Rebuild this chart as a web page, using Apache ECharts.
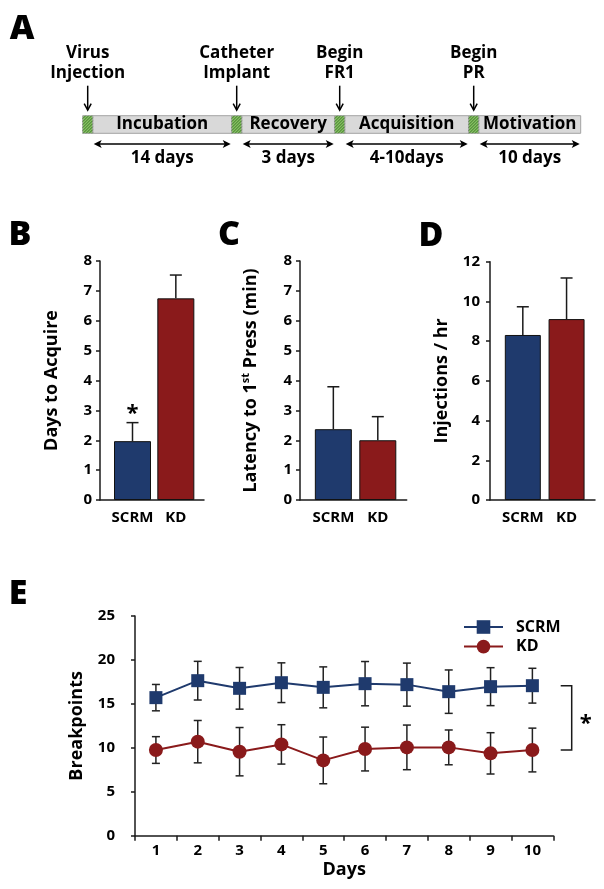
<!DOCTYPE html>
<html>
<head>
<meta charset="utf-8">
<script src="https://cdn.jsdelivr.net/npm/echarts@6/dist/echarts.min.js"></script>
<style>
html,body{margin:0;padding:0;background:#fff;}
#c{width:604px;height:889px;}
</style>
</head>
<body>
<div id="c"></div>
<script>
// ---------------- DATA ----------------
// Panel A: timeline (schematic segment widths)
const phaseNames = ['Incubation', 'Recovery', 'Acquisition', 'Motivation'];
const phaseLengths = [139, 93, 124, 102];
const eventNames = ['Virus\nInjection', 'Catheter\nImplant', 'Begin\nFR1', 'Begin\nPR'];
const durationLabels = ['14 days', '3 days', '4-10days', '10 days'];

// Panels B-D: bar charts
const barCategories = ['SCRM', 'KD'];
const daysToAcquire = [1.97, 6.75];
const daysToAcquireErr = [0.62, 0.78];
const daysToAcquireSig = ['*', ''];
const latency = [2.37, 2.0];
const latencyErr = [1.42, 0.79];
const injections = [8.31, 9.11];
const injectionsErr = [1.42, 2.07];

// Panel E: breakpoints across days
const dayLabels = ['1', '2', '3', '4', '5', '6', '7', '8', '9', '10'];
const scrmBreak = [15.71, 17.64, 16.77, 17.41, 16.88, 17.30, 17.19, 16.39, 16.96, 17.07];
const scrmBreakErr = [1.50, 2.20, 2.37, 2.26, 2.33, 2.52, 2.45, 2.47, 2.16, 1.98];
const kdBreak = [9.75, 10.70, 9.56, 10.39, 8.57, 9.86, 10.05, 10.05, 9.37, 9.75];
const kdBreakErr = [1.52, 2.41, 2.75, 2.24, 2.66, 2.49, 2.54, 1.98, 2.35, 2.49];
const panelLetters = ['A', 'B', 'C', 'D', 'E'];

// ---------------- STYLE ----------------
const FONT = '"Open Sans", "DejaVu Sans", sans-serif';
const BLUE = '#1f3a6d', RED = '#8a1a1b', INK = '#1a1a1a';
const MARK = 10; // width of green start marker (schematic units)
const letterPos = [[22, 29], [20, 235], [229, 235], [431, 236], [18, 594]];

const chart = echarts.init(document.getElementById('c'), null, {renderer: 'canvas'});

function txt(extra) {
  return Object.assign({fontFamily: FONT, fontWeight: 'bold', color: '#000'}, extra);
}

function yAx(gi, max, interval, name, nameGap, labelMargin, rich) {
  return {
    type: 'value', gridIndex: gi, min: 0, max: max, interval: interval,
    name: name, nameLocation: 'middle', nameGap: nameGap,
    nameTextStyle: txt({fontSize: 18, rich: rich}),
    axisLine: {show: true, onZero: false, lineStyle: {color: INK, width: 1.5}},
    axisTick: {show: true, length: 4, lineStyle: {color: INK, width: 1.5}},
    axisLabel: txt({fontSize: 15, margin: labelMargin}),
    splitLine: {show: false}
  };
}
function barX(gi) {
  return {
    type: 'value', gridIndex: gi, min: -0.75, max: 1.65,
    axisLine: {show: true, onZero: false, lineStyle: {color: INK, width: 1.5}},
    axisTick: {show: false}, splitLine: {show: false},
    axisLabel: txt({fontSize: 15, margin: 10, customValues: [0, 1],
      formatter: function (v) { return barCategories[Math.round(v)]; }})
  };
}
function barSeries(ai, vals, w) {
  const cols = [BLUE, RED];
  return {
    type: 'bar', xAxisIndex: ai, yAxisIndex: ai, barWidth: w, z: 2,
    itemStyle: {borderColor: '#111', borderWidth: 1},
    data: vals.map(function (v, i) { return {value: [i, v], itemStyle: {color: cols[i]}}; })
  };
}
function barErr(ai, vals, errs, marks) {
  return {
    type: 'custom', xAxisIndex: ai, yAxisIndex: ai, z: 3,
    data: vals.map(function (v, i) { return [i, v, errs[i]]; }),
    renderItem: function (params, api) {
      const i = api.value(0), v = api.value(1), e = api.value(2);
      const p0 = api.coord([i, v]), p1 = api.coord([i, v + e]);
      const st = {stroke: INK, lineWidth: 1.5};
      const ch = [
        {type: 'line', shape: {x1: p0[0], y1: p0[1], x2: p1[0], y2: p1[1]}, style: st},
        {type: 'line', shape: {x1: p1[0] - 6, y1: p1[1], x2: p1[0] + 6, y2: p1[1]}, style: st}
      ];
      const m = marks ? marks[params.dataIndex] : '';
      if (m) ch.push({type: 'text', x: p1[0], y: p1[1] - 9,
        style: {text: m, fontFamily: FONT, fontWeight: 'bold', fontSize: 22, fill: '#000', align: 'center', verticalAlign: 'middle'}});
      return {type: 'group', children: ch};
    }
  };
}
function lineErr(vals, errs) {
  return {
    type: 'custom', xAxisIndex: 4, yAxisIndex: 4, z: 1,
    data: vals.map(function (v, i) { return [i, v, errs[i]]; }),
    renderItem: function (params, api) {
      const i = api.value(0), v = api.value(1), e = api.value(2);
      const lo = api.coord([i, v - e]), hi = api.coord([i, v + e]);
      const st = {stroke: '#222', lineWidth: 1.5};
      return {type: 'group', children: [
        {type: 'line', shape: {x1: lo[0], y1: lo[1], x2: hi[0], y2: hi[1]}, style: st},
        {type: 'line', shape: {x1: lo[0] - 4, y1: lo[1], x2: lo[0] + 4, y2: lo[1]}, style: st},
        {type: 'line', shape: {x1: hi[0] - 4, y1: hi[1], x2: hi[0] + 4, y2: hi[1]}, style: st}
      ]};
    }
  };
}

// timeline data: [start, length, index]
let cum = 0;
const tlData = phaseLengths.map(function (len, i) { const d = [cum, len, i]; cum += MARK + len; return d; });

function timelineItem(params, api) {
  const s = api.value(0), len = api.value(1), idx = api.value(2);
  const a = api.coord([s, 1]), b = api.coord([s + MARK, 0]), c = api.coord([s + MARK + len, 0]);
  const top = a[1], bot = b[1], x0 = a[0], x1 = b[0], x2 = c[0], h = bot - top;
  const ch = [];
  ch.push({type: 'rect', shape: {x: x1, y: top, width: x2 - x1, height: h}, style: {fill: '#d9d9d9', stroke: '#a3a3a3', lineWidth: 1}});
  ch.push({type: 'rect', shape: {x: x0, y: top, width: x1 - x0, height: h}, style: {fill: '#86c062', stroke: '#a3a3a3', lineWidth: 1}});
  const w = x1 - x0;
  for (let d = -h; d < w; d += 3) {
    const v0 = Math.max(0, -d), v1 = Math.min(h, w - d);
    if (v1 <= v0) continue;
    ch.push({type: 'line', shape: {x1: x0 + v0 + d, y1: bot - v0, x2: x0 + v1 + d, y2: bot - v1},
      style: {stroke: '#3f7a2c', lineWidth: 1}});
  }
  ch.push({type: 'text', x: (x1 + x2) / 2, y: (top + bot) / 2,
    style: {text: phaseNames[idx], fontFamily: FONT, fontWeight: 'bold', fontSize: 17, fill: '#000', align: 'center', verticalAlign: 'middle'}});
  // event arrow
  const ex = (x0 + x1) / 2;
  const ast = {stroke: '#000', lineWidth: 1.5, fill: null};
  ch.push({type: 'line', shape: {x1: ex, y1: top - 30, x2: ex, y2: top - 6}, style: ast});
  ch.push({type: 'polyline', shape: {points: [[ex - 3.5, top - 12], [ex, top - 5.5], [ex + 3.5, top - 12]]}, style: ast});
  ch.push({type: 'text', x: ex, y: top - 52.4,
    style: {text: eventNames[idx], fontFamily: FONT, fontWeight: 'bold', fontSize: 17, lineHeight: 20, fill: '#000', align: 'center', verticalAlign: 'middle'}});
  // duration double arrow
  const ay = bot + 10.7, ax1 = x1 + 1, ax2 = x2 - 1;
  ch.push({type: 'line', shape: {x1: ax1 + 4, y1: ay, x2: ax2 - 4, y2: ay}, style: {stroke: '#000', lineWidth: 1.5}});
  ch.push({type: 'polygon', shape: {points: [[ax1, ay], [ax1 + 8, ay - 4], [ax1 + 6, ay], [ax1 + 8, ay + 4]]}, style: {fill: '#000'}});
  ch.push({type: 'polygon', shape: {points: [[ax2, ay], [ax2 - 8, ay - 4], [ax2 - 6, ay], [ax2 - 8, ay + 4]]}, style: {fill: '#000'}});
  ch.push({type: 'text', x: (x1 + x2) / 2, y: bot + 24.4,
    style: {text: durationLabels[idx], fontFamily: FONT, fontWeight: 'bold', fontSize: 17, fill: '#000', align: 'center', verticalAlign: 'middle'}});
  return {type: 'group', children: ch};
}

const LAST = dayLabels.length - 1;

const option = {
  animation: false,
  backgroundColor: '#fff',
  grid: [
    {left: 82.7, top: 115.7, width: 498, height: 17.6},
    {left: 100, top: 261, width: 104, height: 239},
    {left: 300, top: 261, width: 106.7, height: 239},
    {left: 490, top: 261.7, width: 105, height: 238.3},
    {left: 135, top: 616, width: 418.3, height: 219.7}
  ],
  xAxis: [
    {type: 'value', gridIndex: 0, min: 0, max: cum, show: false},
    barX(1), barX(2), barX(3),
    {
      type: 'category', gridIndex: 4, data: dayLabels, boundaryGap: true,
      name: 'Days', nameLocation: 'middle', nameGap: 25, nameTextStyle: txt({fontSize: 18}),
      axisLine: {lineStyle: {color: INK, width: 1.5}},
      axisTick: {show: true, interval: 0, length: 5, lineStyle: {color: INK, width: 1.5}},
      axisLabel: txt({fontSize: 15, margin: 8, interval: 0}),
      splitLine: {show: false}
    }
  ],
  yAxis: [
    {type: 'value', gridIndex: 0, min: 0, max: 1, show: false},
    yAx(1, 8, 1, 'Days to Acquire', 39, 8),
    yAx(2, 8, 1, 'Latency to 1{sup|st} Press (min)', 38, 8,
      {sup: {fontFamily: FONT, fontWeight: 'bold', fontSize: 11, verticalAlign: 'top', lineHeight: 22, color: '#000'}}),
    yAx(3, 12, 2, 'Injections / hr', 39, 10),
    yAx(4, 25, 5, 'Breakpoints', 49, 20)
  ],
  legend: {
    data: ['SCRM', 'KD'], orient: 'vertical', left: 458, top: 614,
    itemWidth: 39, itemHeight: 17, itemGap: 3.6,
    textStyle: txt({fontSize: 16, padding: [0, 0, 0, 8]})
  },
  series: [
    {type: 'custom', xAxisIndex: 0, yAxisIndex: 0, data: tlData, renderItem: timelineItem},
    barSeries(1, daysToAcquire, 37), barErr(1, daysToAcquire, daysToAcquireErr, daysToAcquireSig),
    barSeries(2, latency, 37), barErr(2, latency, latencyErr),
    barSeries(3, injections, 36), barErr(3, injections, injectionsErr),
    lineErr(scrmBreak, scrmBreakErr),
    lineErr(kdBreak, kdBreakErr),
    {name: 'SCRM', type: 'line', xAxisIndex: 4, yAxisIndex: 4, data: scrmBreak, z: 3,
      symbol: 'rect', symbolSize: 13, itemStyle: {color: BLUE}, lineStyle: {color: BLUE, width: 2}},
    {name: 'KD', type: 'line', xAxisIndex: 4, yAxisIndex: 4, data: kdBreak, z: 3,
      symbol: 'circle', symbolSize: 14, itemStyle: {color: RED}, lineStyle: {color: RED, width: 2}},
    {
      type: 'custom', xAxisIndex: 4, yAxisIndex: 4, z: 3,
      data: [[LAST, scrmBreak[LAST], kdBreak[LAST]]],
      renderItem: function (params, api) {
        const xr = params.coordSys.x + params.coordSys.width;
        const yt = api.coord([api.value(0), api.value(1)])[1];
        const yb = api.coord([api.value(0), api.value(2)])[1];
        const st = {stroke: INK, lineWidth: 1.5, fill: null};
        return {type: 'group', children: [
          {type: 'polyline', shape: {points: [[xr + 7.4, yt], [xr + 18.4, yt], [xr + 18.4, yb], [xr + 7.4, yb]]}, style: st},
          {type: 'text', x: xr + 32.4, y: (yt + yb) / 2 + 6,
            style: {text: '*', fontFamily: FONT, fontWeight: 'bold', fontSize: 22, fill: '#000', align: 'center', verticalAlign: 'middle'}}
        ]};
      }
    }
  ],
  graphic: panelLetters.map(function (t, i) {
    return {type: 'text', x: letterPos[i][0], y: letterPos[i][1],
      style: {text: t, fontFamily: FONT, fontWeight: 800, fontSize: 34, fill: '#000', align: 'center', verticalAlign: 'middle'}};
  })
};
chart.setOption(option);
</script>
</body>
</html>
